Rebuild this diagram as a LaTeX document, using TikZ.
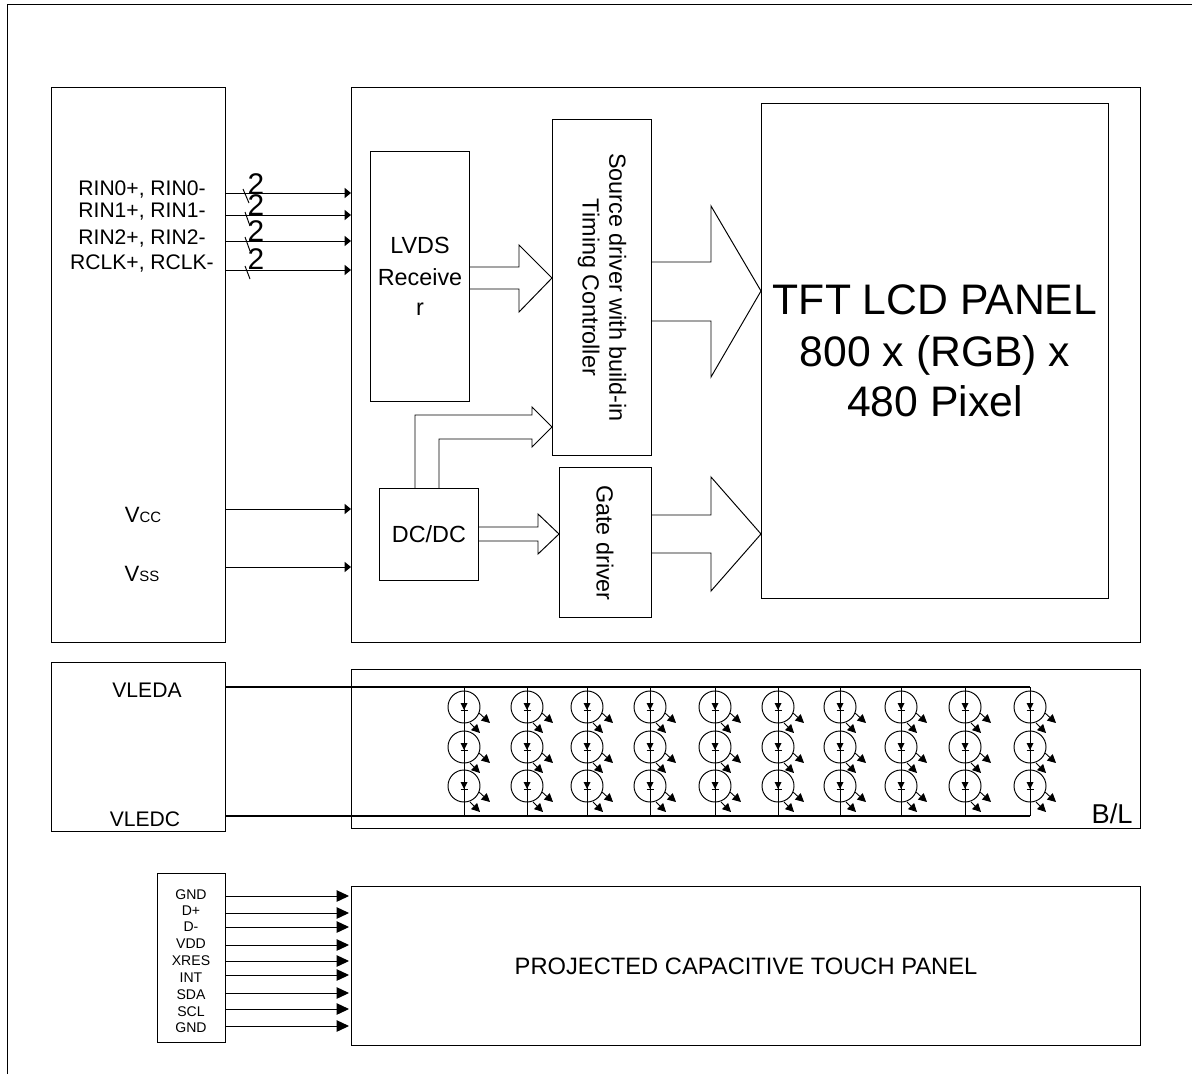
\documentclass[tikz,border=0pt]{standalone}
\usepackage{fontspec}
\setmainfont{Liberation Sans}
\usetikzlibrary{arrows.meta}
\newcommand{\fs}[1]{\fontsize{#1}{1.15\dimexpr#1\relax}\selectfont}
\begin{document}
\begin{tikzpicture}[
      x=0.02cm, y=-0.02cm,
      line width=0.55pt,
      box/.style={draw, inner sep=0pt, anchor=north west, align=center},
      txt/.style={inner sep=0pt, align=center},
      pfeil/.style={-{Triangle[length=3.6pt,width=5.7pt]}},
      tpfeil/.style={-{Triangle[length=7pt,width=6.5pt]}},
      ledpfeil/.style={-{Triangle[length=4.8pt,width=4.8pt]}, line width=0.5pt},
      schiene/.style={line width=1.1pt}
    ]
      \useasboundingbox (0,0) rectangle (1192,1074);
      \coordinate (frameTL) at (7,4);
      \coordinate (frameTR) at (1192,4);
      \coordinate (frameBL) at (7,1074);
      \draw (frameBL) -- (frameTL) -- (frameTR);

      \node[box, minimum width=174*0.02cm, minimum height=555*0.02cm] (conn) at (51,87) {};
      \node[box, minimum width=789*0.02cm, minimum height=555*0.02cm] (main) at (351,87) {};
      \node[box, minimum width=99*0.02cm, minimum height=250*0.02cm, font=\fs{13.3pt}] (lvds) at (370,151) {LVDS\\[2.5pt]Receive\\[2pt]r};
      \node[box, minimum width=99*0.02cm, minimum height=336*0.02cm] (source) at (552,119) {};
      \node[txt, rotate=-90, font=\fs{13.3pt}] (sourcetxt) at (source.center) {Source driver with build-in\\Timing Controller};
      \node[box, minimum width=347*0.02cm, minimum height=495*0.02cm, font=\fs{24.3pt}] (tft) at (761,103) {TFT LCD PANEL\\[1.2pt]800 x (RGB) x\\[0.8pt]480 Pixel};
      \node[box, minimum width=99*0.02cm, minimum height=92*0.02cm, font=\fs{13.3pt}] (dcdc) at (379,488) {DC/DC};
      \node[box, minimum width=92*0.02cm, minimum height=150*0.02cm] (gate) at (559,467) {};
      \node[txt, rotate=-90, font=\fs{13.3pt}] (gatetxt) at (605,543) {Gate driver};

      \node[box, minimum width=174*0.02cm, minimum height=169*0.02cm] (bldrv) at (51,662) {};
      \node[box, minimum width=789*0.02cm, minimum height=159*0.02cm] (bl) at (351,669) {};
      \node[box, minimum width=68*0.02cm, minimum height=169*0.02cm] (tpconn) at (157,873) {};
      \node[box, minimum width=789*0.02cm, minimum height=159*0.02cm, font=\fs{13.5pt}] (tp) at (351,886) {PROJECTED CAPACITIVE TOUCH PANEL};

      % LVDS pins
      \node[txt, font=\fs{12pt}] (rin0) at (142,189) {RIN0+, RIN0-};
      \node[txt, font=\fs{12pt}] (rin1) at (142,212) {RIN1+, RIN1-};
      \node[txt, font=\fs{12pt}] (rin2) at (142,238) {RIN2+, RIN2-};
      \node[txt, font=\fs{12pt}] (rclk) at (142,263) {RCLK+, RCLK-};
      \coordinate (p0) at (225,193);
      \coordinate (p1) at (225,215);
      \coordinate (p2) at (225,241);
      \coordinate (p3) at (225,270);
      \draw[pfeil] (p0) -- (p0 -| main.west);
      \draw[pfeil] (p1) -- (p1 -| main.west);
      \draw[pfeil] (p2) -- (p2 -| main.west);
      \draw[pfeil] (p3) -- (p3 -| main.west);
      \draw (243,189) -- (249,203);
      \draw (245,212) -- (250,226);
      \draw (245,237) -- (250,251);
      \draw (245,266) -- (250,279);
      \node[txt, font=\fs{17pt}] (n0) at (256,184) {2};
      \node[txt, font=\fs{17pt}] (n1) at (256,205) {2};
      \node[txt, font=\fs{17pt}] (n2) at (256,231) {2};
      \node[txt, font=\fs{17pt}] (n3) at (256,259) {2};

      % Versorgung
      \node[txt, font=\fs{12.6pt}] (vcc) at (143,515) {V{\fs{8.5pt}CC}};
      \node[txt, font=\fs{12.6pt}] (vss) at (142,574) {V{\fs{8.5pt}SS}};
      \coordinate (pcc) at (225,509);
      \coordinate (pss) at (225,567);
      \draw[pfeil] (pcc) -- (pcc -| main.west);
      \draw[pfeil] (pss) -- (pss -| main.west);

      % Blockpfeile
      \draw (lvds.east |- 0,267) -- (519,267) -- (519,245) -- (source.west |- 0,278) -- (519,312) -- (519,289) -- (lvds.east |- 0,289);
      \draw (source.east |- 0,262) -- (711,262) -- (711,206) -- (tft.west |- 0,291) -- (711,377) -- (711,321) -- (source.east |- 0,321);
      \draw (gate.east |- 0,515) -- (711,515) -- (711,477) -- (tft.west |- 0,534) -- (711,591) -- (711,553) -- (gate.east |- 0,553);
      \draw (dcdc.east |- 0,527) -- (538,527) -- (538,514) -- (gate.west |- 0,534) -- (538,554) -- (538,541) -- (dcdc.east |- 0,541);
      \draw (415,0 |- dcdc.north) -- (415,415) -- (532,415) -- (532,407) -- (source.west |- 0,427) -- (532,447) -- (532,439) -- (439,439) -- (439,0 |- dcdc.north);

      % Backlight
      \node[txt, font=\fs{12pt}] (vleda) at (147,690) {VLEDA};
      \node[txt, font=\fs{12pt}] (vledc) at (145,819) {VLEDC};
      \node[txt, font=\fs{15.5pt}, anchor=base east] (bllabel) at (1133,823) {B/L};
      \coordinate (la) at (225,687);
      \coordinate (lc) at (225,816);
      \coordinate (ra) at (1030,687);
      \coordinate (rc) at (1030,816);
      \draw[schiene] (la) -- (ra);
      \draw[schiene] (lc) -- (rc);
      \foreach \x in {464,527,587,650,715,778,840,901,965,1030} {
        \draw (\x,687) -- (\x,816);
        \foreach \y in {707,747,786} {
          \draw (\x,\y) circle (16);
          \fill (\x-3.5,\y-4) -- (\x+3.5,\y-4) -- (\x,\y+3) -- cycle;
          \draw (\x-3.5,\y+3) -- (\x+3.5,\y+3);
          \draw[ledpfeil] (\x+15,\y+6) -- (\x+26,\y+16);
          \draw[ledpfeil] (\x+6,\y+16) -- (\x+16,\y+26);
        }
      }

      % Touch
      \foreach \y/\t/\ly/\n in {896/GND/895/a, 913/D+/911/b, 927/D-/927/c, 945/VDD/944/d, 961/XRES/961/e, 975/INT/978/f, 993/SDA/995/g, 1009/SCL/1012/h, 1026/GND/1028/i} {
        \node[txt, font=\fs{8pt}] (tl\n) at (191,\ly) {\t};
        \coordinate (tc\n) at (225,\y);
        \draw[tpfeil] (tc\n) -- (349,\y);
      }
    \end{tikzpicture}
\end{document}
